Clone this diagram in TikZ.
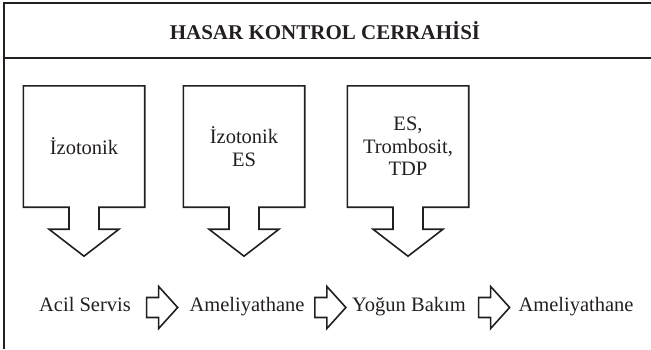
\documentclass[tikz,border=0pt]{standalone}
\usepackage{fontspec}
\setmainfont{Liberation Serif}
\usetikzlibrary{calc, positioning}
\definecolor{inkblack}{HTML}{231F20}

\tikzset{
  outl/.style={draw=inkblack, line width=1.6pt, line join=miter},
  frameline/.style={draw=inkblack, line width=1.2pt},
  dropbox/.style={minimum width=121pt, minimum height=121pt, inner sep=0pt,
    align=center, text=inkblack, font=\fontsize{20.5}{22.5}\selectfont},
  station/.style={inner sep=0pt, anchor=base, text=inkblack,
    font=\fontsize{20.5}{23}\selectfont}
}

% box with a downward block arrow under it
\newcommand{\dropshape}[1]{%
  \draw[outl] (#1.north west) -- (#1.north east) -- (#1.south east)
    -- ([xshift=15pt]#1.south) -- ++(0,-22pt) -- ++(20pt,0)
    -- ([yshift=-49pt]#1.south) -- ++(-35pt,27pt) -- ++(20pt,0)
    -- ([xshift=-15pt]#1.south) -- (#1.south west) -- cycle;}

% small block arrow between two stations
\newcommand{\flowarrow}[2]{%
  \path ($(#1.east)!0.5!(#2.west)$) ++(2pt,0) coordinate (mid);
  \draw[outl] (mid |- rowmid) ++(-15.5pt,10pt) -- ++(12pt,0) -- ++(0,11pt)
    -- ++(19pt,-21pt) -- ++(-19pt,-21pt) -- ++(0,11pt) -- ++(-12pt,0) -- cycle;}

\begin{document}
\begin{tikzpicture}[x=1pt, y=1pt]
\useasboundingbox (0,0) rectangle (651,349);

% Frame and header
\draw[frameline] (4,0) -- (4,346) -- (651,346);
\draw[frameline] (4,291) -- (651,291);
\node[text=inkblack, font=\fontsize{21}{24}\selectfont\bfseries] (title) at (325,318.5) {HASAR KONTROL CERRAHİSİ};

% Boxes
\node[dropbox] (izotonik) at (84,202.5) {İzotonik};
\node[dropbox] (izoes) at (244,202.5) {İzotonik\\ES};
\node[dropbox] (kan) at (408,202.5) {ES,\\Trombosit,\\TDP};
\dropshape{izotonik}
\dropshape{izoes}
\dropshape{kan}

% Stations
\coordinate (rowmid) at (0,41.5);
\node[station] (acil) at (85,38) {Acil Servis};
\node[station] (ameli) at (247,38) {Ameliyathane};
\node[station] (yogun) at (409,38) {Yoğun Bakım};
\node[station] (amelitwo) at (576,38) {Ameliyathane};
\flowarrow{acil}{ameli}
\flowarrow{ameli}{yogun}
\flowarrow{yogun}{amelitwo}

\end{tikzpicture}
\end{document}
